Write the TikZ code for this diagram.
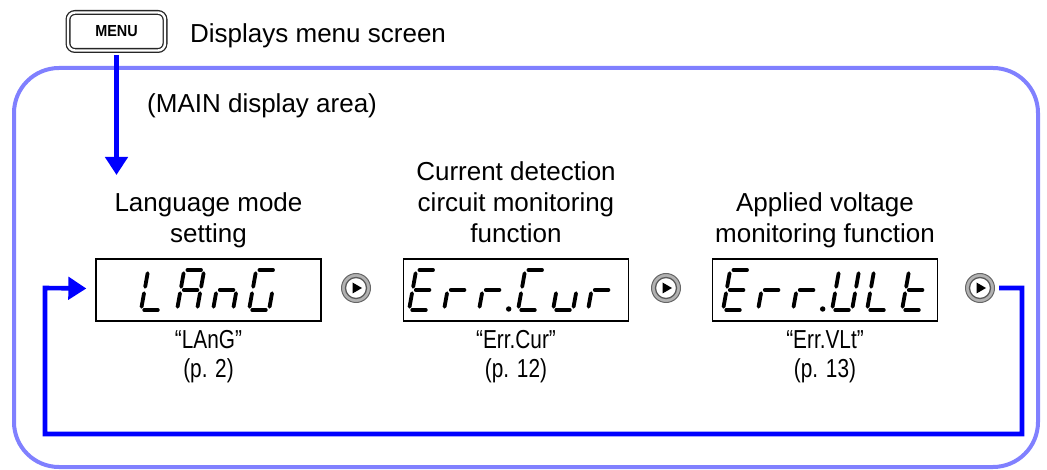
\documentclass[tikz,border=0pt]{standalone}
\usepackage{fontspec}
\setmainfont{Liberation Sans}
\newfontfamily\narrowfont[FakeStretch=0.8]{Liberation Sans}
\newfontfamily\menufont[FakeStretch=0.9]{Liberation Sans Bold}
\usetikzlibrary{arrows.meta,calc}

% seven-segment helpers
\def\W{20}\def\H{40}\def\G{3.2}\def\SL{0.18}
\newcommand\Pt[2]{({\X+(#1)+\SL*(#2)},{\Y-(#2)})}
\newcommand\SGa{\draw[segline] \Pt{\G}{\H} -- \Pt{\W-\G}{\H};}
\newcommand\SGb{\draw[segline] \Pt{\W}{\H-\G} -- \Pt{\W}{\H/2+\G};}
\newcommand\SGc{\draw[segline] \Pt{\W}{\H/2-\G} -- \Pt{\W}{\G};}
\newcommand\SGd{\draw[segline] \Pt{\G}{0} -- \Pt{\W-\G}{0};}
\newcommand\SGe{\draw[segline] \Pt{0}{\G} -- \Pt{0}{\H/2-\G};}
\newcommand\SGf{\draw[segline] \Pt{0}{\H/2+\G} -- \Pt{0}{\H-\G};}
\newcommand\SGg{\draw[segline] \Pt{\G}{\H/2} -- \Pt{\W-\G}{\H/2};}
\newcommand\SGdot{\fill[black] \Pt{\W+9.5}{1} circle (2.7pt);}
\newcommand\Chr[3]{\def\X{#1}\def\Y{#2}#3}

\begin{document}
\begin{tikzpicture}[x=1pt,y=-1pt,
  txt/.style={font=\fontsize{26}{31}\selectfont, inner sep=0pt},
  lbl/.style={txt, align=center, anchor=south},
  capt/.style={font=\narrowfont\fontsize{26}{29}\selectfont, inner sep=0pt, align=center, anchor=north},
  frame/.style={draw={rgb,255:red,128;green,128;blue,255}, line width=4pt, rounded corners=45pt},
  flow/.style={draw={rgb,255:red,0;green,0;blue,255}, line width=4.6pt, -{Triangle[length=18pt,width=22pt]}},
  dispbox/.style={draw=black, line width=1.3pt, minimum width=225pt, minimum height=62pt, inner sep=0pt},
  segline/.style={draw=black, line width=3.8pt, line cap=round},
  menubtn/.style={draw=black!85, line width=1.3pt, double=white, double distance=2.4pt, rounded corners=7pt,
     minimum width=97pt, minimum height=38pt, inner sep=0pt, font=\menufont\fontsize{16}{18}\selectfont},
  playbtn/.style={circle, minimum size=29pt, inner sep=0pt, draw=black!60, line width=1pt, fill=black!30,
     path picture={
       \fill[white, draw=black!65, line width=1.3pt] (path picture bounding box.center) circle (10.5pt);
       \fill[black, shift={(path picture bounding box.center)}] (-3.5,-5.5) -- (-3.5,5.5) -- (6,0) -- cycle;
     }}
]
\useasboundingbox (0,0) rectangle (1047,470);

% outer frame
\draw[frame] (14,68) rectangle (1038,467);

% MENU key and texts
\node[menubtn] (menu) at (116.5,31.5) {MENU};
\node[txt, anchor=base west] (desc) at (190,43) {Displays menu screen};
\node[txt, anchor=base west] (area) at (147,113) {(MAIN display area)};

% displays
\node[dispbox] (d1) at (208.5,290) {};
\node[dispbox] (d2) at (516,290) {};
\node[dispbox] (d3) at (825,290) {};

% labels above
\node[lbl] (l1) at (208.5,252) {Language mode\\setting\strut};
\node[lbl] (l2) at (516,252) {Current detection\\circuit monitoring\\function\strut};
\node[lbl] (l3) at (825,252) {Applied voltage\\monitoring function\strut};

% captions below
\node[capt] (c1) at (208.5,330) {“LAnG”\\(p. 2)};
\node[capt] (c2) at (516,330) {“Err.Cur”\\(p. 12)};
\node[capt] (c3) at (825,330) {“Err.VLt”\\(p. 13)};

% play buttons
\node[playbtn] (p1) at (356,288) {};
\node[playbtn] (p2) at (666,288) {};
\node[playbtn] (p3) at (980,288) {};

% seven segment contents: display 1 "LAnG"
\Chr{141}{310}{\SGd\SGe\SGf}
\Chr{177}{310}{\SGa\SGb\SGc\SGe\SGf\SGg}
\Chr{213}{310}{\SGc\SGe\SGg}
\Chr{249}{310}{\SGa\SGc\SGd\SGe\SGf}
% display 2 "Err.Cur"
\Chr{409}{310}{\SGa\SGd\SGe\SGf\SGg}
\Chr{444}{310}{\SGe\SGg}
\Chr{479}{310}{\SGe\SGg\SGdot}
\Chr{518}{310}{\SGa\SGd\SGe\SGf}
\Chr{553}{310}{\SGc\SGd\SGe}
\Chr{588}{310}{\SGe\SGg}
% display 3 "Err.ULt"
\Chr{723}{310}{\SGa\SGd\SGe\SGf\SGg}
\Chr{758}{310}{\SGe\SGg}
\Chr{793}{310}{\SGe\SGg\SGdot}
\Chr{832}{310}{\SGb\SGc\SGd\SGe\SGf}
\Chr{867}{310}{\SGd\SGe\SGf}
\Chr{902}{310}{\SGd\SGe\SGf\SGg}

% connectors
\coordinate (tipA) at (116.5,175);
\draw[flow, shorten <=4pt] (menu) -- (tipA);

\coordinate (lr1) at (1022,288);
\coordinate (lr2) at (1022,434);
\coordinate (ll2) at (45,434);
\coordinate (ll1) at (45,288);
\draw[flow, shorten <=4pt, shorten >=9pt] (p3) -- (lr1) -- (lr2) -- (ll2) -- (ll1) -- (d1);
\end{tikzpicture}
\end{document}
